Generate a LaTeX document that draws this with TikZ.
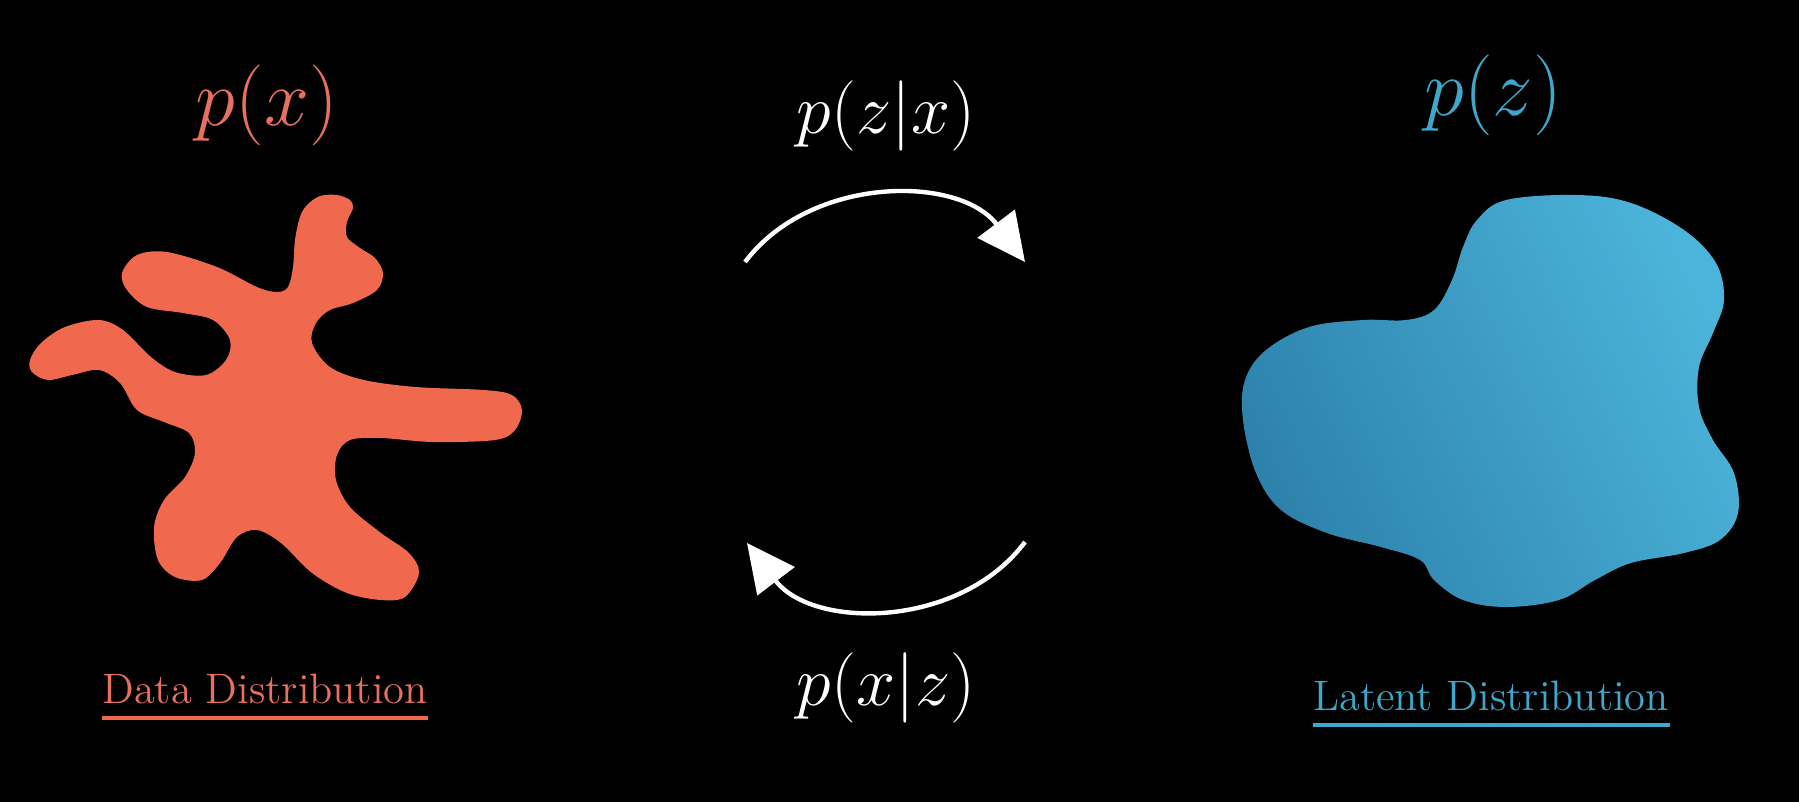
\documentclass[tikz,border=0pt]{standalone}
\usepackage{fix-cm}
\usepackage{xcolor}
\usepackage{tikz}
\usetikzlibrary{arrows.meta}
\definecolor{datafill}{HTML}{F0694F}
\definecolor{datatext}{HTML}{E8705F}
\definecolor{latentdark}{HTML}{2D82AC}
\definecolor{latentlight}{HTML}{4CB4DA}
\definecolor{latenttext}{HTML}{3DA8CC}
\definecolor{flowcolor}{HTML}{FFFFFF}
\tikzset{
  dist title/.style={
    inner sep=0pt,
    font=\fontsize{23}{28}\selectfont
  },
  cond label/.style={
    inner sep=0pt,
    text=flowcolor,
    font=\fontsize{20}{24}\selectfont
  },
  dist name/.style={
    inner sep=0pt,
    font=\fontsize{12.1}{14}\selectfont
  },
  name rule/.style={
    line width=1.15pt
  },
  flow/.style={
    draw=flowcolor,
    line width=1.25pt,
    -{Triangle[length=4.8mm,width=4.6mm]}
  }
}
\newcommand{\underlinename}[2]{%
  \draw[name rule,#2] ([yshift=-1.45mm]#1.base west) -- ([yshift=-1.45mm]#1.base east);
}

\begin{document}
\begin{tikzpicture}[x=0.01cm,y=-0.01cm]
  \fill[black] (0,0) rectangle (1799,802);

  % data blob
  \fill[datafill] plot[smooth cycle,tension=0.55] coordinates {
    (320,196) (337,195) (350,200) (353,208) (347,222) (347,237) (360,248)
    (375,258) (383,273) (377,290) (353,303) (330,310) (316,323) (312,343)
    (330,367) (364,380) (416,387) (484,390) (512,395) (522,410) (515,430)
    (495,440) (433,442) (381,438) (350,440) (337,455) (336,480) (350,507)
    (381,533) (409,553) (419,573) (405,597) (381,600) (347,593) (312,573)
    (281,543) (257,530) (237,537) (220,563) (202,580) (175,577) (158,560)
    (154,527) (164,500) (185,477) (195,453) (189,433) (164,422) (137,410)
    (120,383) (99,370) (72,375) (48,380) (32,372) (30,360) (41,343)
    (65,327) (99,320) (123,330) (151,357) (175,372) (206,375) (226,360)
    (230,340) (213,320) (183,313) (147,307) (127,290) (122,273) (137,255)
    (167,252) (217,267) (257,287) (277,292) (288,287) (293,267) (295,240)
    (300,217) (307,205)};

  % latent blob
  \shade[left color=latentdark,right color=latentlight,shading angle=115] plot[smooth cycle,tension=0.6] coordinates {
    (1506,200) (1577,195) (1631,203) (1684,230) (1716,263) (1724,300)
    (1713,333) (1699,367) (1699,407) (1713,440) (1734,473) (1738,513)
    (1720,540) (1684,553) (1631,563) (1595,580) (1559,600) (1506,607)
    (1463,600) (1434,580) (1420,560) (1381,547) (1327,533) (1281,510)
    (1256,473) (1243,420) (1245,380) (1266,350) (1309,327) (1363,320)
    (1406,320) (1434,310) (1452,280) (1463,247) (1477,220)};

  \node[dist title,text=datatext,anchor=base] (px) at (267,125) {$p(x)$};
  \node[dist title,text=latenttext,anchor=base] (pz) at (1493,115) {$p(z)$};

  \node[cond label,anchor=base] (enc-label) at (886,133) {$p(z|x)$};
  \node[cond label,anchor=base] (dec-label) at (886,705) {$p(x|z)$};

  \coordinate (enc-start) at (745,262);
  \coordinate (enc-end) at (1025,262);
  \coordinate (dec-start) at (1025,542);
  \coordinate (dec-end) at (747,543);
  \draw[flow] (enc-start) to[bend left=53] (enc-end);
  \draw[flow] (dec-start) to[bend left=53] (dec-end);

  \node[dist name,text=datatext,anchor=base] (data-name) at (265,703) {Data Distribution};
  \node[dist name,text=latenttext,anchor=base] (latent-name) at (1491,710) {Latent Distribution};
  \underlinename{data-name}{draw=datafill}
  \underlinename{latent-name}{draw=latenttext}
\end{tikzpicture}
\end{document}
